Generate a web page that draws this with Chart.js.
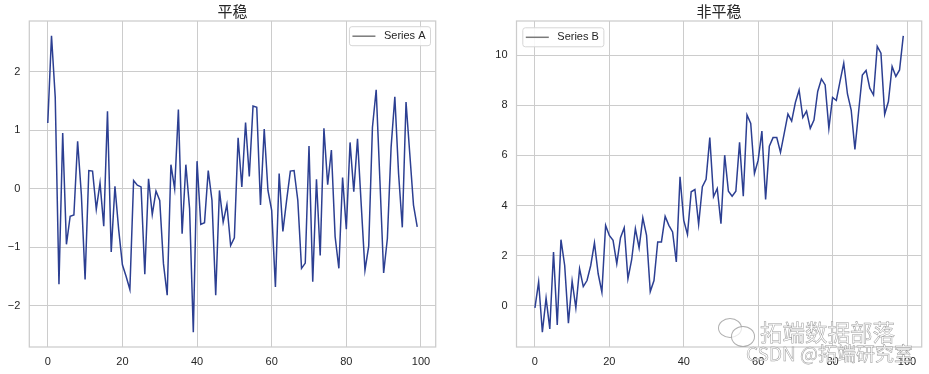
<!DOCTYPE html>
<html>
<head>
<meta charset="utf-8">
<script src="https://cdn.jsdelivr.net/npm/chart.js@4/dist/chart.umd.min.js"></script>
<style>
  html, body { margin: 0; padding: 0; background: #fff; }
  body { width: 929px; height: 374px; position: relative; overflow: hidden; }
  #wrapA { position: absolute; left: 0; top: 0; width: 465px; height: 374px; }
  #wrapB { position: absolute; left: 465px; top: 0; width: 464px; height: 374px; }
  .wm1, .wm2 { position: absolute; color: rgba(255,255,255,0.9); -webkit-text-stroke: 0.5px rgba(120,120,120,0.75);
    font-family: "Noto Sans CJK SC", sans-serif; white-space: nowrap; pointer-events: none; }
  .wm1 { left: 760px; top: 318px; font-size: 22.5px; line-height: 26px; }
  .wm2 { left: 746px; top: 342px; font-size: 19px; line-height: 22px; }
  .bub { position: absolute; border: 1px solid rgba(140,140,140,0.7); border-radius: 50%; background: rgba(255,255,255,0.7); }
</style>
</head>
<body>
<div id="wrapA"><canvas id="chartA" width="465" height="374"></canvas></div>
<div id="wrapB"><canvas id="chartB" width="464" height="374"></canvas></div>
<div class="bub" style="left:718px;top:318px;width:22px;height:18px;"></div>
<div class="bub" style="left:731px;top:326px;width:22px;height:19px;"></div>
<div class="wm1">拓端数据部落</div>
<div class="wm2">CSDN @拓端研究室</div>
<script>
// ---- data ----
const titleA = "平稳";
const titleB = "非平稳";
const labelA = "Series A";
const labelB = "Series B";
const xTicks = [0, 20, 40, 60, 80, 100];
const yTicksA = [-2, -1, 0, 1, 2];
const yTicksB = [0, 2, 4, 6, 8, 10];
const seriesA = [
  1.12, 2.61, 1.56, -1.63, 0.95, -0.95, -0.47, -0.45, 0.81, -0.10,
  -1.55, 0.31, 0.30, -0.35, 0.10, -0.64, 1.32, -1.08, 0.04, -0.70,
  -1.30, -1.50, -1.72, 0.14, 0.06, 0.03, -1.46, 0.17, -0.44, -0.04,
  -0.20, -1.28, -1.82, 0.41, 0.00, 1.35, -0.77, 0.41, -0.34, -2.45,
  0.47, -0.61, -0.58, 0.31, -0.20, -1.82, -0.03, -0.57, -0.27, -0.97,
  -0.84, 0.87, 0.03, 1.13, 0.21, 1.41, 1.39, -0.28, 1.02, -0.03,
  -0.37, -1.68, 0.26, -0.73, -0.20, 0.30, 0.31, -0.20, -1.36, -1.27,
  0.73, -1.59, 0.16, -1.14, 1.03, 0.07, 0.66, -0.82, -1.36, 0.19,
  -0.69, 0.79, -0.05, 0.85, -0.28, -1.39, -0.98, 1.05, 1.69, 0.14,
  -1.44, -0.85, 0.71, 1.57, 0.26, -0.66, 1.48, 0.60, -0.28, -0.65
];
const seriesB = [
  -0.08, 0.95, -1.05, 0.31, -0.92, 2.15, -0.76, 2.64, 1.61, -0.69,
  0.99, -0.08, 1.48, 0.77, 1.01, 1.61, 2.51, 1.28, 0.55, 3.21,
  2.81, 2.61, 1.68, 2.72, 3.12, 1.08, 1.84, 3.08, 2.31, 3.51,
  2.81, 0.57, 1.01, 2.55, 2.55, 3.57, 3.21, 2.95, 1.75, 5.15,
  3.41, 2.85, 4.55, 4.64, 3.25, 4.75, 5.05, 6.71, 4.35, 4.68,
  3.28, 6.01, 4.57, 4.37, 4.57, 6.52, 4.37, 7.61, 7.28, 5.28,
  5.81, 6.97, 4.24, 6.37, 6.71, 6.71, 6.12, 6.88, 7.65, 7.37,
  8.11, 8.61, 7.51, 7.77, 7.08, 7.41, 8.55, 9.05, 8.81, 7.08,
  8.31, 8.19, 8.95, 9.68, 8.45, 7.81, 6.24, 7.75, 9.21, 9.39,
  8.68, 8.41, 10.35, 10.08, 7.64, 8.15, 9.55, 9.15, 9.41, 10.77
];

// ---- styling ----
const FONT = '"Liberation Sans", Arial, sans-serif';
const LINE_COLOR = '#2c3f92';
const GRID = '#cccccc';
const TEXT = '#262626';

function fmt(v) { return v < 0 ? '\u2212' + Math.abs(v) : String(v); }

function withMargin(arr) {
  const mn = Math.min(...arr), mx = Math.max(...arr), m = (mx - mn) * 0.05;
  return [mn - m, mx + m];
}

const frame = {
  id: 'frame',
  beforeDatasetsDraw(chart) {
    const a = chart.chartArea, c = chart.ctx;
    c.save();
    c.strokeStyle = GRID; c.lineWidth = 1.25;
    c.strokeRect(a.left, a.top, a.right - a.left, a.bottom - a.top);
    c.restore();
  }
};

const innerLegend = {
  id: 'innerLegend',
  afterDraw(chart, args, opts) {
    const a = chart.chartArea, c = chart.ctx;
    const text = chart.data.datasets[0].label;
    c.save();
    c.font = '11px ' + FONT;
    const tw = c.measureText(text).width;
    const w = 3.5 + 23 + 8.5 + tw + 4.5, h = 19;
    const x = opts.side === 'right' ? a.right - 5.7 - w : a.left + 5.8;
    const y = a.top + (opts.side === 'right' ? 5.2 : 6.3);
    c.beginPath();
    c.roundRect(x + 0.5, y + 0.5, w, h, 2.5);
    c.fillStyle = 'rgba(255,255,255,0.85)';
    c.fill();
    c.strokeStyle = '#d6d6d6'; c.lineWidth = 1;
    c.stroke();
    c.beginPath();
    c.moveTo(x + 3.5, y + h / 2 + 0.5);
    c.lineTo(x + 26.5, y + h / 2 + 0.5);
    c.strokeStyle = '#7a7a7a'; c.lineWidth = 1.5;
    c.stroke();
    c.fillStyle = TEXT; c.textBaseline = 'middle';
    c.fillText(text, x + 35, y + h / 2 + 0.5);
    c.restore();
  }
};

function makeChart(id, title, label, values, yTicks, yAxisWidth, padRight, side) {
  const [xmin, xmax] = withMargin(values.map((v, i) => i));
  const [ymin, ymax] = withMargin(values);
  return new Chart(document.getElementById(id), {
    type: 'line',
    data: {
      datasets: [{
        label: label,
        data: values.map((v, i) => ({ x: i, y: v })),
        borderColor: LINE_COLOR,
        borderWidth: 1.5,
        pointRadius: 0,
        tension: 0,
        fill: false
      }]
    },
    options: {
      responsive: false,
      animation: false,
      events: [],
      layout: { padding: { left: 0, right: padRight, top: 0, bottom: 0 } },
      plugins: {
        legend: { display: false },
        tooltip: { enabled: false },
        title: {
          display: true, text: title, fullSize: false, color: TEXT,
          font: { family: '"Noto Sans CJK SC", sans-serif', size: 15, weight: 'normal', lineHeight: 1.2 },
          padding: { top: 2, bottom: 1 }
        },
        innerLegend: { side: side }
      },
      scales: {
        x: {
          type: 'linear', min: xmin, max: xmax,
          afterBuildTicks: s => { s.ticks = xTicks.map(v => ({ value: v })); },
          afterFit: s => { s.height = 27; },
          grid: { color: GRID, lineWidth: 1, drawTicks: false },
          border: { display: false },
          ticks: { color: TEXT, font: { family: FONT, size: 11 }, padding: 8, maxRotation: 0, callback: v => fmt(v) }
        },
        y: {
          type: 'linear', min: ymin, max: ymax,
          afterBuildTicks: s => { s.ticks = yTicks.map(v => ({ value: v })); },
          afterFit: s => { s.width = yAxisWidth; },
          grid: { color: GRID, lineWidth: 1, drawTicks: false },
          border: { display: false },
          ticks: { color: TEXT, font: { family: FONT, size: 11 }, padding: 9, callback: v => fmt(v) }
        }
      }
    },
    plugins: [frame, innerLegend]
  });
}

makeChart('chartA', titleA, labelA, seriesA, yTicksA, 29.3, 29.3, 'right');
makeChart('chartB', titleB, labelB, seriesB, yTicksB, 51.5, 7.3, 'left');
</script>
</body>
</html>
